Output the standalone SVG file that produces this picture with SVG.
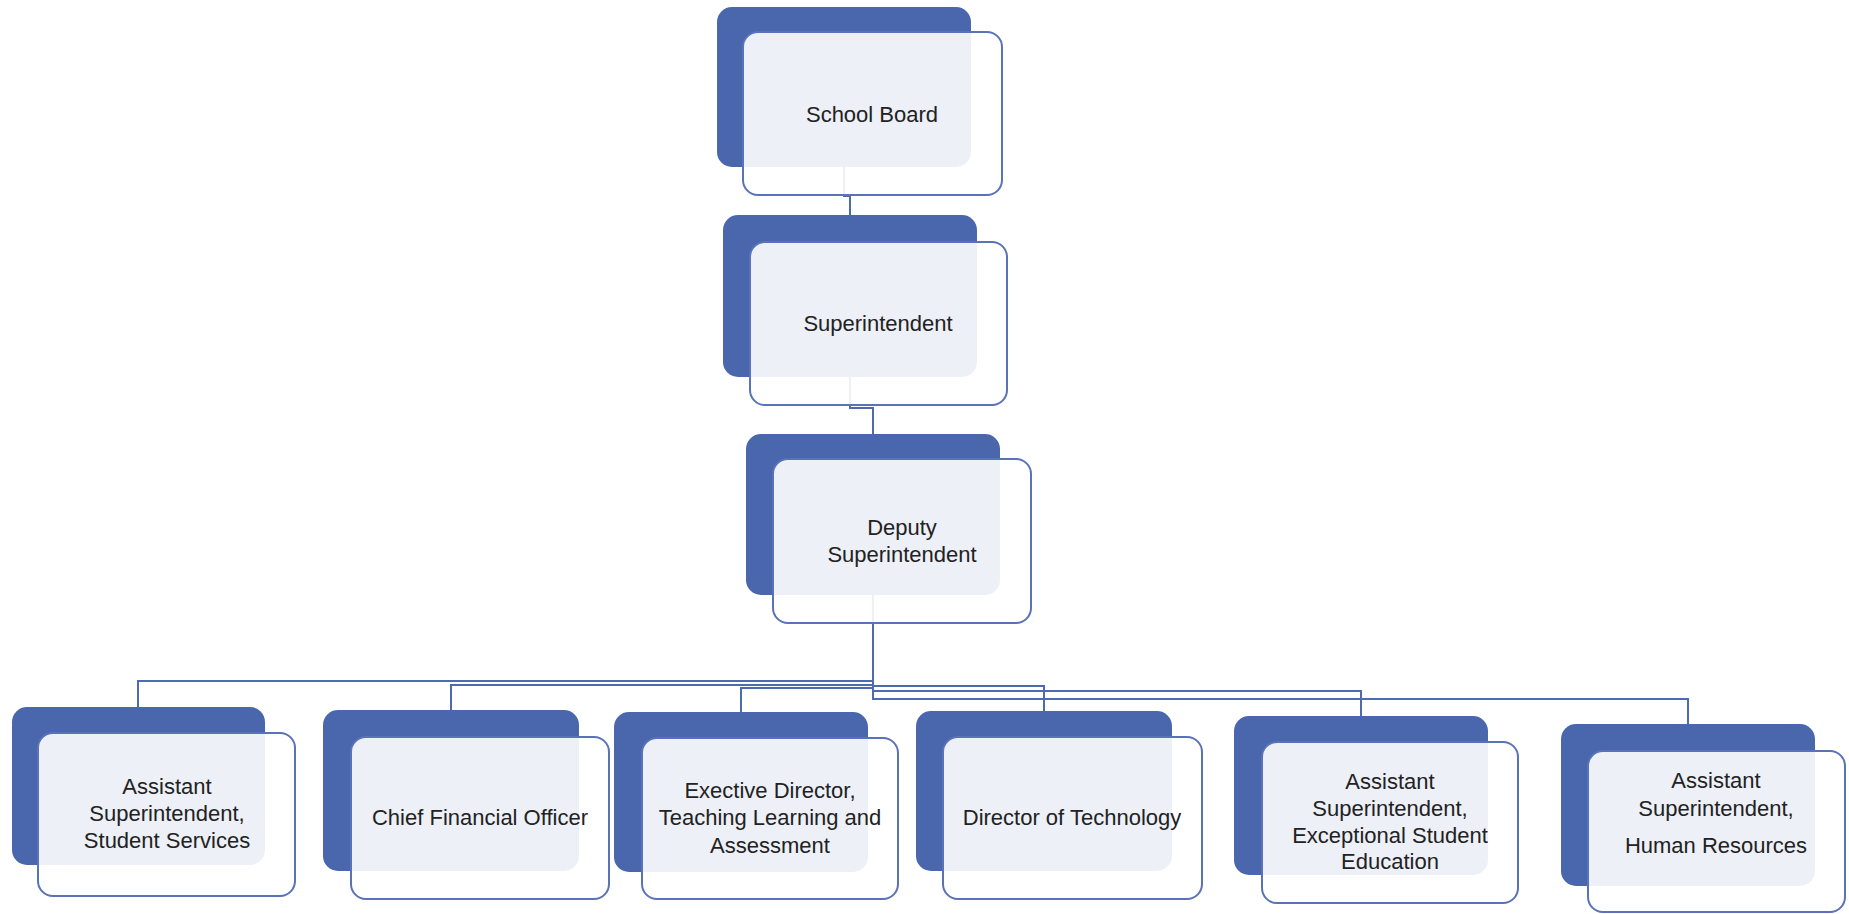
<svg xmlns="http://www.w3.org/2000/svg" width="1849" height="914" viewBox="0 0 1849 914">
<style>
.back{fill:#4a67ad;}
.front{fill:#ffffff;fill-opacity:0.9;stroke:#5a73b8;stroke-width:2;}
.lbl{font-family:"Liberation Sans",Arial,sans-serif;font-size:22px;fill:#222222;text-anchor:middle;}
.conn{fill:none;stroke:#4f6bb0;stroke-width:2;}
</style>
<rect width="1849" height="914" fill="#ffffff"/>
<g id="connectors">
<polyline class="conn" points="844,167 844,196 850,196 850,215"/>
<polyline class="conn" points="850,377 850,408 873,408 873,434"/>
<polyline class="conn" points="873,595 873,681 138,681 138,707"/>
<polyline class="conn" points="873,595 873,685 451,685 451,710"/>
<polyline class="conn" points="873,595 873,688 741,688 741,712"/>
<polyline class="conn" points="873,595 873,686 1044,686 1044,711"/>
<polyline class="conn" points="873,595 873,691 1361,691 1361,716"/>
<polyline class="conn" points="873,595 873,699 1688,699 1688,724"/>
</g>
<g id="school-board">
<rect class="back" x="717" y="7" width="254" height="160" rx="15"/>
<rect class="front" x="743" y="32" width="259" height="163" rx="15"/>
<text class="lbl" x="872" y="122">School Board</text>
</g>
<g id="superintendent">
<rect class="back" x="723" y="215" width="254" height="162" rx="15"/>
<rect class="front" x="750" y="242" width="257" height="163" rx="15"/>
<text class="lbl" x="878" y="331">Superintendent</text>
</g>
<g id="deputy-superintendent">
<rect class="back" x="746" y="434" width="254" height="161" rx="15"/>
<rect class="front" x="773" y="459" width="258" height="164" rx="15"/>
<text class="lbl" x="902" y="535">Deputy</text>
<text class="lbl" x="902" y="562">Superintendent</text>
</g>
<g id="asst-student-services">
<rect class="back" x="12" y="707" width="253" height="158" rx="15"/>
<rect class="front" x="38" y="733" width="257" height="163" rx="15"/>
<text class="lbl" x="167" y="794">Assistant</text>
<text class="lbl" x="167" y="821">Superintendent,</text>
<text class="lbl" x="167" y="848">Student Services</text>
</g>
<g id="cfo">
<rect class="back" x="323" y="710" width="256" height="161" rx="15"/>
<rect class="front" x="351" y="737" width="258" height="162" rx="15"/>
<text class="lbl" x="480" y="825">Chief Financial Officer</text>
</g>
<g id="exec-director">
<rect class="back" x="614" y="712" width="254" height="160" rx="15"/>
<rect class="front" x="642" y="738" width="256" height="161" rx="15"/>
<text class="lbl" x="770" y="798">Exective Director,</text>
<text class="lbl" x="770" y="825">Teaching Learning and</text>
<text class="lbl" x="770" y="853">Assessment</text>
</g>
<g id="director-technology">
<rect class="back" x="916" y="711" width="256" height="160" rx="15"/>
<rect class="front" x="943" y="737" width="259" height="162" rx="15"/>
<text class="lbl" x="1072" y="825">Director of Technology</text>
</g>
<g id="asst-exceptional-student">
<rect class="back" x="1234" y="716" width="254" height="159" rx="15"/>
<rect class="front" x="1262" y="742" width="256" height="161" rx="15"/>
<text class="lbl" x="1390" y="789">Assistant</text>
<text class="lbl" x="1390" y="816">Superintendent,</text>
<text class="lbl" x="1390" y="843">Exceptional Student</text>
<text class="lbl" x="1390" y="869">Education</text>
</g>
<g id="asst-human-resources">
<rect class="back" x="1561" y="724" width="254" height="162" rx="15"/>
<rect class="front" x="1588" y="751" width="257" height="161" rx="15"/>
<text class="lbl" x="1716" y="788">Assistant</text>
<text class="lbl" x="1716" y="816">Superintendent,</text>
<text class="lbl" x="1716" y="853">Human Resources</text>
</g>
</svg>
